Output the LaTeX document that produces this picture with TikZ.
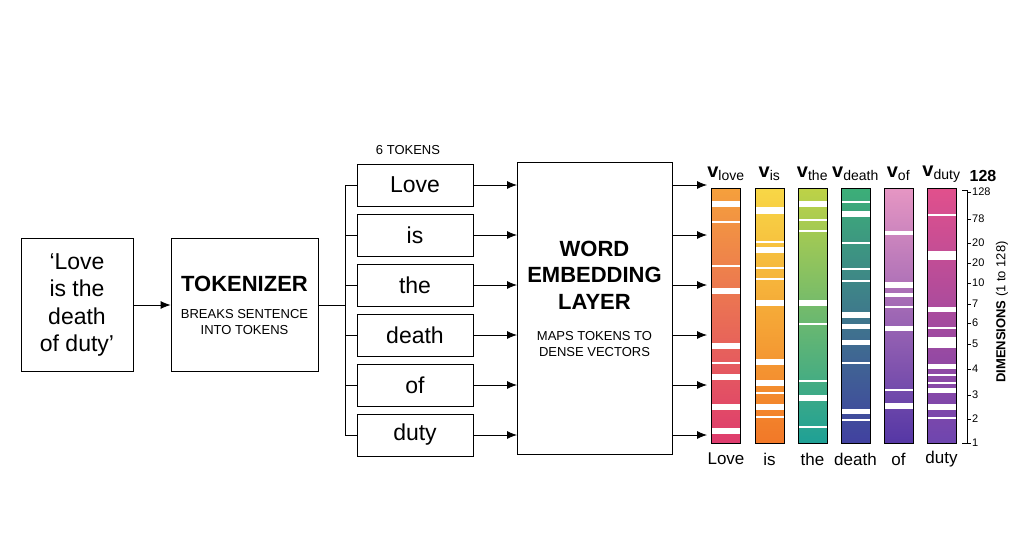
\documentclass[tikz,border=0pt]{standalone}
\usepackage{fontspec}
\setmainfont{Liberation Sans}
\usetikzlibrary{arrows.meta}
\newcommand{\fs}[1]{\fontsize{#1}{\dimexpr#1pt*6/5\relax}\selectfont}
\definecolor{loA}{RGB}{245,160,60}\definecolor{loB}{RGB}{238,95,60}\definecolor{loC}{RGB}{222,60,110}
\definecolor{isA}{RGB}{248,215,70}\definecolor{isB}{RGB}{246,165,50}\definecolor{isC}{RGB}{242,120,40}
\definecolor{thA}{RGB}{190,210,70}\definecolor{thB}{RGB}{60,180,110}\definecolor{thC}{RGB}{30,160,150}
\definecolor{deA}{RGB}{60,175,120}\definecolor{deB}{RGB}{30,150,165}\definecolor{deC}{RGB}{65,65,160}
\definecolor{ofA}{RGB}{230,150,195}\definecolor{ofB}{RGB}{175,85,210}\definecolor{ofC}{RGB}{85,55,165}
\definecolor{duA}{RGB}{225,80,140}\definecolor{duB}{RGB}{60,170,200}\definecolor{duC}{RGB}{110,70,175}
\begin{document}
\begin{tikzpicture}
[x=1pt,y=-1pt,
box/.style={rectangle,draw=black,thick,fill=white,inner sep=0pt},
tok/.style={box,minimum width=116pt,minimum height=42pt,font=\fs{23}},
arr/.style={-{Latex[length=10pt,width=8pt]},thick},
lab/.style={font=\fs{17}},
axn/.style={font=\fs{11},anchor=west,inner sep=1pt}]
\useasboundingbox (0,0) rectangle (1024,559);

\node at (77,305)  [box,minimum width=112pt,minimum height=133pt,align=center,font=\fs{23}] (inp)
  {`Love\\is the\\death\\of duty'};
\node at (244.5,305) [box,minimum width=147pt,minimum height=133pt] (tokz) {};
\node at (244.5,284) [font=\fs{22}\bfseries] {TOKENIZER};
\node at (244.5,322) [align=center,font=\fs{13}] {BREAKS SENTENCE\\INTO TOKENS};
\draw [arr] (inp.east) to (tokz.west);

\node at (408,150) [font=\fs{13}] {6 TOKENS};
\node at (415,185) [tok] (t1) {Love};
\node at (415,235) [tok] (t2) {is};
\node at (415,285) [tok] (t3) {the};
\node at (415,335) [tok] (t4) {death};
\node at (415,385) [tok] (t5) {of};
\node at (415,435) [tok] (t6) {duty};
\coordinate (br) at (345,305);
\draw [thick] (tokz.east |- br) to (br);
\draw [thick] (345,185) to (345,435);
\foreach \t in {t1,t2,t3,t4,t5,t6} {
  \draw [thick] (345,0 |- \t.west) to (\t.west);
  \draw [arr] (\t.east) to (517,0 |- \t.east);
  \draw [arr] (672,0 |- \t.east) to (707,0 |- \t.east);
}
\node at (594.5,308) [box,minimum width=155pt,minimum height=292pt] (emb) {};
\node at (594.5,275) [align=center,font=\fs{22}\bfseries] {WORD\\EMBEDDING\\LAYER};
\node at (594.5,344) [align=center,font=\fs{13}] {MAPS TOKENS TO\\DENSE VECTORS};

% vector columns: x, name, label, colours, stripes (zoom y / width)
\foreach \x/\w/\l/\c/\st in {
  726/love/Love/lo/{133/6,187/2,318/2,392/6,558/6,610/2,650/6,740/6,812/6},
  769.5/is/is/is/{150/7,245/2,270/6,325/2,358/2,428/6,605/6,670/6,700/2,740/6,770/2},
  812.5/the/the/th/{133/6,180/2,213/2,430/6,493/2,662/2,715/6,802/2},
  855.5/death/death/de/{125/2,163/6,250/2,326/2,362/2,465/6,500/5,547/5,610/2,755/5,780/2},
  898.5/of/of/of/{220/4,375/6,405/4,440/2,505/5,690/2,737/6},
  941.5/duty/duty/du/{165/2,285/9,448/5,505/2,548/11,620/5,645/2,668/2,690/5,740/6,775/2}} {
  \shade [top color=\c A,middle color=\c B,bottom color=\c C] (\x-14.5,188) rectangle (\x+14.5,443);
  \foreach \z/\h in \st
    \fill [white] (\x-14.5,160+\z/3-\h/2) rectangle (\x+14.5,160+\z/3+\h/2);
  \draw [thick] (\x-14.5,188) rectangle (\x+14.5,443);
  \node at (\x,174) [font=\fs{20}] (v\w) {$\mathbf{v}_{\mathrm{\w}}$};
  \node at (\x,459) [lab] (l\w) {\l};
}

% dimension axis
\draw [thick] (962,190) -- (967,190) -- (967,443) -- (962,443);
\foreach \y/\n in {192/128,219/78,243/20,263/20,283/10,304/7,323/6,344/5,369/4,395/3,419/2,443/1} {
  \draw (967,\y) -- (971,\y);
  \node at (971,\y) [axn] {\n};
}
\node at (983,176) [font=\fs{16}\bfseries] (top) {128};
\node at (1002,312) [rotate=90,font=\fs{13}] (dim) {\textbf{DIMENSIONS} (1 to 128)};
\end{tikzpicture}
\end{document}
